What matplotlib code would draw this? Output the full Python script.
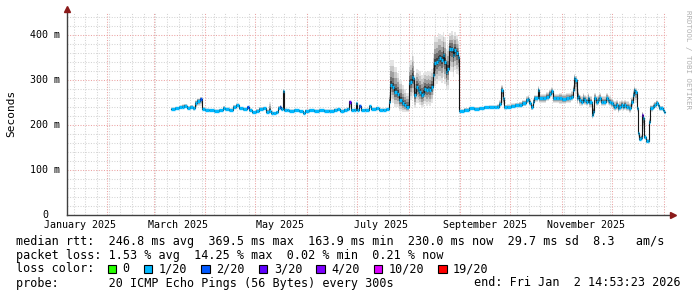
import matplotlib

matplotlib.use("Agg")
import matplotlib.pyplot as plt
from matplotlib.patches import Rectangle
import numpy as np

W, H, DPI = 697, 297, 100
MONO = "DejaVu Sans Mono"

# time axis: days since 2025-01-01 00:00
x_start, x_end = 6.62, 366.62
data_end = 366.0

# median rtt samples (ms), smoke spread above / below the median (ms), loss level index
day = [
    69.4, 72.0, 74.4, 76.2, 77.4, 79.2, 81.0, 82.4, 84.0, 85.2, 86.8, 88.0, 90.0, 92.4, 95.4, 98.4,
    100.4, 102.0, 104.4, 106.4, 108.4, 110.4, 112.8, 115.2, 116.4, 118.2, 120.4, 122.4, 124.4, 126.4,
    128.4, 129.4, 130.8, 132.4, 133.8, 134.8, 135.6, 136.5, 137.4, 139.2,
    140.4, 143.4, 146.4, 148.4, 150.0, 152.4, 155.4, 158.4, 161.4, 164.4, 167.4, 169.2, 171.0, 173.4,
    175.2, 176.4, 177.6, 179.4, 180.4, 181.2, 182.4, 183.6, 186.0, 188.4, 189.6, 192.4, 194.4, 196.8, 198.6,
    200.0, 201.0, 202.2, 203.4, 205.2, 206.4, 208.2, 209.4, 210.6, 212.0, 212.8, 214.0, 214.8, 215.4,
    216.4, 217.4, 218.4, 219.4, 220.4, 221.4, 222.4, 223.4, 224.4, 225.4, 226.4, 227.4, 228.4, 229.4,
    230.4, 231.4, 232.4, 233.4, 234.4, 235.0, 236.4, 237.4, 238.4, 239.4, 240.4, 241.4, 242.0,
    242.4, 245.4, 248.4, 251.4, 254.4, 257.4, 260.4, 263.4, 265.2, 266.4, 267.4, 268.4, 269.4, 271.2,
    273.6, 276.0, 278.4, 280.2, 282.4, 283.4, 284.4, 285.4, 286.4, 287.4, 289.4, 290.4, 292.4, 294.4,
    296.4, 297.4, 298.4, 300.4,
    302.4, 304.2, 306.4, 308.4, 309.6, 310.4, 311.4, 312.0, 312.8, 313.4, 314.4, 315.4, 316.4, 317.4,
    318.4, 319.4, 320.4, 321.8, 322.4, 323.4, 324.4, 325.4, 326.4, 327.4, 328.4, 330.4, 331.4, 332.4,
    333.4, 334.4, 335.4, 336.4, 337.4, 338.4, 339.4, 340.4, 341.4, 342.4, 343.4, 344.4, 345.4, 346.4,
    347.4, 348.0, 348.8, 349.4, 350.4, 351.4, 352.0, 352.8, 353.4, 354.4, 355.4, 356.0, 356.8, 358.4,
    359.4, 360.4, 361.4, 362.4, 363.4, 364.4, 365.4,
]
median_ms = [
    235, 237, 239, 241, 243, 238, 240, 237, 248, 254, 258, 236, 234, 233, 232, 233,
    238, 235, 233, 240, 244, 237, 235, 239, 233, 228, 231, 236, 237, 230,
    232, 226, 226, 228, 238, 241, 236, 275, 233, 233,
    232, 233, 231, 227, 232, 233, 232, 233, 232, 232, 234, 235, 232, 234,
    236, 252, 233, 234, 248, 234, 243, 233, 234, 242, 236, 238, 234, 234, 235,
    252, 289, 285, 274, 270, 256, 248, 244, 241, 293, 295, 307, 304, 267,
    285, 278, 274, 267, 270, 281, 278, 281, 278, 285, 311, 337, 341, 344,
    348, 344, 356, 341, 318, 325, 370, 368, 356, 367, 359, 352, 322,
    232, 234, 237, 236, 237, 239, 240, 240, 241, 246, 278, 259, 239, 240,
    242, 244, 244, 248, 256, 258, 250, 239, 252, 259, 278, 259, 259, 263,
    270, 275, 259, 259,
    259, 257, 259, 260, 263, 278, 304, 300, 259, 265, 255, 252, 259, 255,
    252, 259, 252, 222, 230, 259, 252, 255, 259, 252, 252, 259, 255, 252,
    248, 244, 241, 244, 237, 241, 244, 241, 244, 241, 241, 237, 252, 267,
    278, 274, 237, 182, 170, 172, 222, 215, 174, 164, 164, 207, 237, 241,
    244, 248, 244, 237, 237, 233, 230,
]
smoke_up = [
    4, 4, 5, 5, 4, 5, 5, 5, 8, 6, 5, 4, 3, 3, 3, 3,
    5, 4, 4, 5, 4, 4, 4, 4, 4, 4, 5, 4, 4, 5,
    20, 6, 4, 4, 4, 4, 4, 5, 4, 3,
    3, 3, 3, 3, 3, 3, 3, 3, 3, 3, 3, 3, 3, 3,
    3, 3, 3, 3, 3, 3, 3, 3, 3, 3, 3, 3, 3, 3, 3,
    20, 55, 60, 55, 45, 45, 40, 35, 30, 45, 50, 60, 50, 45,
    40, 45, 45, 45, 45, 40, 40, 40, 40, 40, 50, 60, 55, 60,
    55, 55, 50, 55, 50, 50, 35, 40, 45, 40, 40, 35, 20,
    3, 4, 4, 4, 4, 4, 4, 4, 5, 10, 10, 8, 6, 6,
    6, 6, 8, 8, 8, 8, 8, 8, 8, 8, 8, 10, 10, 10,
    10, 10, 10, 10,
    12, 12, 12, 12, 12, 12, 10, 10, 12, 12, 12, 12, 12, 12,
    12, 12, 12, 10, 15, 12, 12, 12, 12, 12, 12, 12, 12, 12,
    12, 12, 12, 12, 12, 12, 12, 12, 12, 12, 12, 12, 10, 10,
    8, 8, 8, 10, 8, 8, 8, 8, 6, 6, 6, 8, 8, 8,
    8, 8, 8, 6, 6, 5, 4,
]
smoke_dn = [
    3, 4, 4, 4, 4, 4, 5, 5, 10, 12, 15, 4, 3, 3, 3, 3,
    4, 4, 3, 4, 6, 4, 4, 4, 4, 4, 4, 5, 4, 5,
    5, 4, 3, 3, 4, 4, 4, 20, 4, 3,
    3, 3, 3, 4, 3, 3, 3, 3, 3, 3, 3, 3, 3, 3,
    3, 15, 3, 3, 12, 3, 3, 3, 3, 3, 3, 3, 3, 3, 3,
    10, 30, 35, 35, 30, 25, 20, 15, 12, 40, 40, 45, 40, 30,
    35, 30, 30, 30, 30, 35, 35, 35, 35, 35, 45, 50, 50, 45,
    50, 50, 50, 50, 40, 45, 50, 50, 50, 45, 45, 40, 20,
    3, 4, 4, 4, 4, 4, 4, 4, 4, 5, 30, 15, 5, 5,
    5, 6, 6, 6, 8, 8, 8, 6, 8, 8, 15, 10, 10, 10,
    10, 12, 10, 10,
    12, 10, 10, 10, 10, 15, 25, 30, 12, 12, 12, 10, 10, 10,
    10, 10, 15, 8, 10, 12, 10, 10, 10, 10, 10, 10, 10, 10,
    10, 10, 10, 10, 10, 10, 10, 10, 10, 10, 10, 10, 12, 20,
    25, 25, 8, 8, 6, 6, 30, 30, 6, 5, 5, 30, 8, 6,
    6, 6, 6, 5, 5, 4, 4,
]
loss_idx = [1] * len(day)
for d_mark, lvl in [(86.8, 2), (115.2, 2), (134.8, 2), (176.4, 3), (182.4, 2), (352.0, 3)]:
    loss_idx[day.index(d_mark)] = lvl

loss_labels = ["0", "1/20", "2/20", "3/20", "4/20", "10/20", "19/20"]
loss_colors = ["#26ff00", "#00b8ff", "#0059ff", "#5e00ff", "#7e00ff", "#dd00ff", "#ff0000"]

month_starts = [31, 59, 90, 120, 151, 181, 212, 243, 273, 304, 334, 365]
month_label_days = [0, 59, 120, 181, 243, 304]
month_labels = ["January 2025", "March 2025", "May 2025", "July 2025", "September 2025", "November 2025"]
first_sunday = 11

y_major = [0, 100, 200, 300, 400]
y_labels = ["0", "100 m", "200 m", "300 m", "400 m"]

legend_lines = [
    "median rtt:  246.8 ms avg  369.5 ms max  163.9 ms min  230.0 ms now  29.7 ms sd  8.3   am/s",
    "packet loss: 1.53 % avg  14.25 % max  0.02 % min  0.21 % now",
    "loss color:",
    "probe:       20 ICMP Echo Pings (56 Bytes) every 300s",
]
end_text = "end: Fri Jan  2 14:53:23 2026"


fig = plt.figure(figsize=(W / DPI, H / DPI), dpi=DPI)
fig.patch.set_facecolor("white")
ax = fig.add_axes([66.5 / W, (H - 215) / H, 600 / W, 202.5 / H])
ax.set_xlim(x_start, x_end)
ax.set_ylim(0, 450)
for s in ax.spines.values():
    s.set_visible(False)
ax.set_xticks([])
ax.set_yticks([])

# grid
grid_kw = dict(lw=0.75, ls=(0, (1, 1.5)), zorder=0)
for d in np.arange(first_sunday, x_end, 7):
    ax.axvline(d, color="#d4d4d4", **grid_kw)
for v in range(20, 451, 20):
    if v % 100:
        ax.axhline(v, color="#d4d4d4", **grid_kw)
for d in month_starts:
    ax.axvline(d, color="#eba3a3", **grid_kw)
for v in y_major[1:]:
    ax.axhline(v, color="#eba3a3", **grid_kw)

# smoke
d_ext = np.append(day, data_end)
m = np.array(median_ms, dtype=float)
m_ext = np.append(m, m[-1])
up_ext = np.append(smoke_up, smoke_up[-1])
dn_ext = np.append(smoke_dn, smoke_dn[-1])
shades = [(1.0, "#e4e4e4"), (0.78, "#c8c8c8"), (0.55, "#a0a0a0"), (0.33, "#707070"), (0.15, "#404040")]
for frac, col in shades:
    ax.fill_between(d_ext, m_ext - frac * dn_ext, m_ext + frac * up_ext, step="post",
                    color=col, lw=0, zorder=2)

# median
ax.step(d_ext, m_ext, where="post", color="#151515", lw=0.8, zorder=3)
ax.hlines(m, day, d_ext[1:], colors=[loss_colors[i] for i in loss_idx], lw=2.4, zorder=4)

# axes with arrows
ax.plot([0, 1.01], [0, 0], transform=ax.transAxes, color="#404040", lw=1, clip_on=False, zorder=5)
ax.plot([0, 0], [0, 1.015], transform=ax.transAxes, color="#404040", lw=1, clip_on=False, zorder=5)
ax.plot([1.01], [0], marker=">", ms=4, color="#8b1a1a", transform=ax.transAxes, clip_on=False, zorder=6)
ax.plot([0], [1.015], marker="^", ms=4, color="#8b1a1a", transform=ax.transAxes, clip_on=False, zorder=6)

# tick labels
for v, lab in zip(y_major, y_labels):
    off = -6.5 if lab != "0" else -18.5
    ax.annotate(lab, xy=(0, v), xycoords=("axes fraction", "data"), xytext=(off, 0),
                textcoords="offset pixels", ha="right", va="center", family=MONO, fontsize=7.2)
for d, lab in zip(month_label_days, month_labels):
    ax.annotate(lab, xy=(d + 14.5, 0), xycoords=("data", "axes fraction"), xytext=(0, -10),
                textcoords="offset pixels", ha="center", va="center", family=MONO, fontsize=7.2,
                annotation_clip=False)

fig.text(11 / W, 1 - 113 / H, "Seconds", rotation=90, ha="center", va="center", family=MONO, fontsize=8)
fig.text(688 / W, 1 - 59 / H, "RRDTOOL / TOBI OETIKER", rotation=270, ha="center", va="center",
         family=MONO, fontsize=5.3, color="#b0b0b0")

# legend
char_w = 7.05
line_y = [241, 255, 269, 283]
for txt, yy in zip(legend_lines, line_y):
    fig.text(16 / W, 1 - yy / H, txt, ha="left", va="center", family=MONO, fontsize=8.45)
fig.text(681 / W, 1 - line_y[3] / H, end_text, ha="right", va="center", family=MONO, fontsize=8.45)

pos = 13.0
for lab, col in zip(loss_labels, loss_colors):
    bx = 16 + pos * char_w
    fig.patches.append(Rectangle((bx / W, 1 - (line_y[2] + 4) / H), 8.5 / W, 8 / H,
                                 transform=fig.transFigure, facecolor=col, edgecolor="black", lw=0.8))
    fig.text((16 + (pos + 2.1) * char_w) / W, 1 - line_y[2] / H, lab, ha="left", va="center",
             family=MONO, fontsize=8.45)
    pos += len(lab) + 4.15

fig.savefig("out.png", dpi=DPI, facecolor="white")
